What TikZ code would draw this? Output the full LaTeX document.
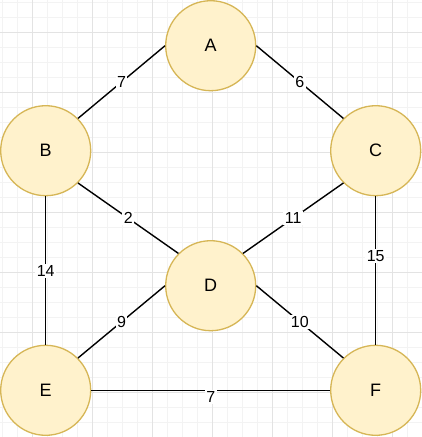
\documentclass[tikz,border=0pt]{standalone}
\usepackage{fontspec}
\setmainfont{Liberation Sans}
\definecolor{nodefill}{HTML}{FFF2CC}
\definecolor{nodeline}{HTML}{D6B656}
\definecolor{gridminor}{HTML}{F3F3F3}
\definecolor{gridmajor}{HTML}{E3E3E3}
\begin{document}
\begin{tikzpicture}[x=1pt,y=-1pt,
  vertex/.style={circle,draw=nodeline,fill=nodefill,line width=1.3pt,minimum size=90pt,inner sep=0pt,font=\fontsize{18}{20}\selectfont},
  edge/.style={line width=1.4pt,black},
  wlabel/.style={fill=white,inner sep=1.5pt,font=\fontsize{16}{18}\selectfont}]
\useasboundingbox (0,0) rectangle (422,437);
\fill[white] (0,0) rectangle (422,437);
\foreach \k in {0,...,28} {
  \draw[gridminor,line width=0.8pt] ({2+15*\k},0) -- ({2+15*\k},437);
  \draw[gridminor,line width=0.8pt] (0,{2+15*\k}) -- (422,{2+15*\k});
}
\foreach \k in {0,...,6} {
  \draw[gridmajor,line width=0.8pt] ({32+60*\k},0) -- ({32+60*\k},437);
  \draw[gridmajor,line width=0.8pt] (0,{32+60*\k}) -- (422,{32+60*\k});
}
\node[vertex] (A) at (210.7,45.7) {A};
\node[vertex] (B) at (45.7,150.7) {B};
\node[vertex] (C) at (375.7,150.7) {C};
\node[vertex] (D) at (210.7,285.7) {D};
\node[vertex] (E) at (45.7,390.3) {E};
\node[vertex] (F) at (375.7,390.3) {F};
\draw[edge] (B.45) -- node[wlabel]{7} (A.west);
\draw[edge] (A.east) -- node[wlabel]{6} (C.135);
\draw[edge] (B.-45) -- node[wlabel]{2} (D.135);
\draw[edge] (C.-135) -- node[wlabel]{11} (D.45);
\draw[edge] (B.south) -- node[wlabel]{14} (E.north);
\draw[edge] (C.south) -- node[wlabel,pos=0.4]{15} (F.north);
\draw[edge] (D.west) -- node[wlabel]{9} (E.45);
\draw[edge] (D.east) -- node[wlabel]{10} (F.135);
\draw[edge] (E.east) -- node[wlabel,yshift=-7pt]{7} (F.west);
\end{tikzpicture}
\end{document}
